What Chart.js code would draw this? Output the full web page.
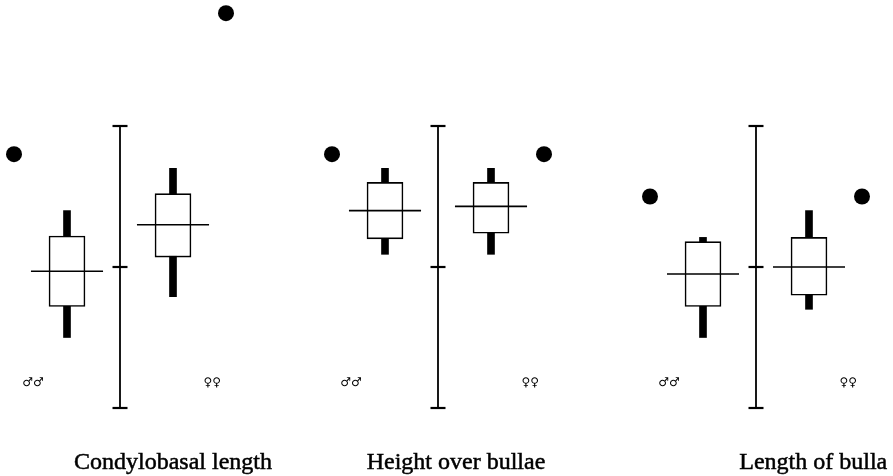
<!DOCTYPE html>
<html>
<head>
<meta charset="utf-8">
<script src="https://cdn.jsdelivr.net/npm/chart.js@4.4.0/dist/chart.umd.min.js"></script>
<style>
  html, body { margin: 0; padding: 0; background: #fff; }
  canvas { display: block; }
</style>
</head>
<body>
<canvas id="MyChart" width="893" height="476"></canvas>
<script>
// measures, one panel each
const measures = ['Condylobasal length', 'Height over bullae', 'Length of bulla'];
const sexes = ['♂♂', '♀♀'];
const axisTicks = [-1, 0, 1];

// males (deviation units, axis ticks at -1, 0, +1)
const maleMean = [-0.03, 0.40, -0.05];
const maleBoxLow = [-0.28, 0.20, -0.28];
const maleBoxHigh = [0.22, 0.60, 0.18];
const maleMin = [-0.50, 0.09, -0.50];
const maleMax = [0.40, 0.70, 0.21];

// females
const femaleMean = [0.30, 0.43, 0.00];
const femaleBoxLow = [0.07, 0.24, -0.20];
const femaleBoxHigh = [0.52, 0.60, 0.21];
const femaleMin = [-0.21, 0.09, -0.30];
const femaleMax = [0.70, 0.70, 0.40];

// single reference values
const maleDot = [0.80, 0.80, 0.50];
const femaleDot = [1.80, 0.80, 0.50];

// layout (x units)
const STEP = 6, SEX_OFF = 1, DOT_OFF = 2, MEAN_HALF = 0.68;
const SEX_LABEL_X = [-1.64, 1.74], SEX_LABEL_Y = -0.82;
const TITLE_X = [1.0, 0.34, 1.08], TITLE_Y = -1.435;

const groups = [
  {off: -SEX_OFF, mean: maleMean, lo: maleBoxLow, hi: maleBoxHigh, min: maleMin, max: maleMax},
  {off: SEX_OFF, mean: femaleMean, lo: femaleBoxLow, hi: femaleBoxHigh, min: femaleMin, max: femaleMax}
];

const rangeData = [], boxData = [], meanData = [], axisData = [], tickData = [], dotData = [];
measures.forEach((m, p) => {
  const c = p * STEP;
  groups.forEach(g => {
    rangeData.push({x: c + g.off, y: [g.min[p], g.max[p]]});
    boxData.push({x: c + g.off, y: [g.lo[p], g.hi[p]]});
    meanData.push({x: c + g.off - MEAN_HALF, y: g.mean[p]});
    meanData.push({x: c + g.off + MEAN_HALF, y: g.mean[p]});
    meanData.push({x: c + g.off, y: null});
  });
  axisData.push({x: c, y: axisTicks[0]}, {x: c, y: axisTicks[axisTicks.length - 1]}, {x: c, y: null});
  axisTicks.forEach(t => tickData.push({x: c, y: t}));
  dotData.push({x: c - DOT_OFF, y: maleDot[p]}, {x: c + DOT_OFF, y: femaleDot[p]});
});

const labelPlugin = {
  id: 'labels',
  afterDraw(chart) {
    const {ctx, scales: {x, y}} = chart;
    ctx.save();
    ctx.fillStyle = '#000';
    ctx.strokeStyle = '#000';
    ctx.textAlign = 'center';
    measures.forEach((m, p) => {
      ctx.textBaseline = 'middle';
      ctx.font = 'bold 12px "DejaVu Sans"';
      sexes.forEach((s, i) => {
        ctx.fillText(s, x.getPixelForValue(p * STEP + SEX_LABEL_X[i]), y.getPixelForValue(SEX_LABEL_Y));
      });
      ctx.textBaseline = 'alphabetic';
      ctx.font = '24px "Liberation Serif"';
      ctx.lineWidth = 0.5;
      const tx = x.getPixelForValue(p * STEP + TITLE_X[p]);
      const ty = y.getPixelForValue(TITLE_Y);
      ctx.fillText(m, tx, ty);
      ctx.strokeText(m, tx, ty);
    });
    ctx.restore();
  }
};

const ctx = document.getElementById('MyChart').getContext('2d');
new Chart(ctx, {
  type: 'bar',
  data: {
    datasets: [
      {type: 'line', data: dotData, showLine: false, pointRadius: 8, pointBackgroundColor: '#000', pointBorderWidth: 0, order: 0},
      {type: 'line', data: meanData, borderColor: '#000', borderWidth: 1.6, pointRadius: 0, spanGaps: false, order: 1},
      {data: boxData, grouped: false, barThickness: 36, backgroundColor: '#fff', borderColor: '#000', borderWidth: 1.6, borderSkipped: false, order: 2},
      {data: rangeData, grouped: false, barThickness: 7, backgroundColor: '#000', borderWidth: 0, order: 3},
      {type: 'line', data: tickData, showLine: false, pointStyle: 'line', pointRadius: 7.5, pointBorderColor: '#000', pointBorderWidth: 2.2, order: 4},
      {type: 'line', data: axisData, borderColor: '#000', borderWidth: 1.8, pointRadius: 0, spanGaps: false, order: 5}
    ]
  },
  options: {
    responsive: false,
    animation: false,
    layout: {padding: 0, autoPadding: false},
    plugins: {legend: {display: false}, tooltip: {enabled: false}},
    scales: {
      x: {type: 'linear', display: false, offset: false, min: -120 / 53, max: (893 - 120) / 53},
      y: {type: 'linear', display: false, min: (267 - 476) / 141, max: 267 / 141}
    }
  },
  plugins: [labelPlugin]
});
</script>
</body>
</html>
